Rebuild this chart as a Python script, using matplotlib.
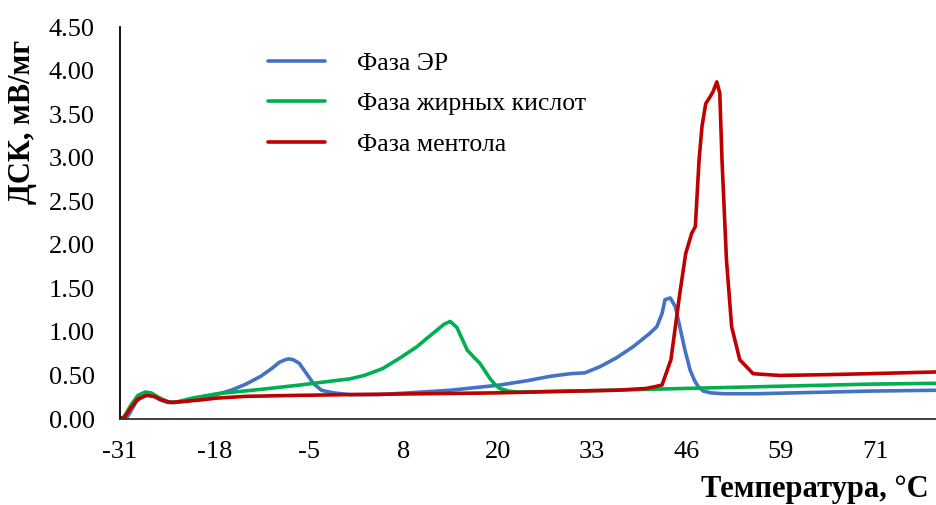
import matplotlib
matplotlib.use("Agg")
import matplotlib.pyplot as plt

# ---- data ----
tick_labels = ["-31", "-18", "-5", "8", "20", "33", "46", "59", "71"]
tick_step = 12.75

er_t = [-31.0, -30.2, -29.6, -28.8, -27.6, -26.6, -25.6, -24.6, -23.6, -22.0, -20.0, -18.0,
        -16.0, -14.0, -12.0, -10.5, -9.5, -8.7, -8.2, -7.6, -6.8, -5.8, -4.9, -3.8, -2.2, 0.0,
        4.0, 8.0, 13.6, 20.3, 24.0, 27.1, 29.8, 31.8, 33.8, 36.0, 38.3, 40.5, 41.5, 42.2,
        42.6, 43.3, 44.0, 44.6, 45.3, 46.0, 46.6, 47.1, 47.8, 48.8, 50.5, 55.0, 60.0, 65.0,
        70.0, 79.2]
er_v = [0.00, 0.00, 0.08, 0.20, 0.28, 0.27, 0.22, 0.19, 0.19, 0.21, 0.24, 0.28,
        0.33, 0.40, 0.49, 0.58, 0.65, 0.68, 0.69, 0.68, 0.64, 0.52, 0.41, 0.33, 0.30, 0.28,
        0.28, 0.30, 0.33, 0.39, 0.44, 0.49, 0.52, 0.53, 0.60, 0.70, 0.83, 0.98, 1.06, 1.21,
        1.37, 1.39, 1.29, 1.06, 0.79, 0.56, 0.44, 0.37, 0.32, 0.30, 0.29, 0.29, 0.30, 0.31,
        0.32, 0.33]

fa_t = [-31.0, -30.4, -29.6, -28.6, -27.6, -26.8, -25.6, -24.6, -23.6, -21.2, -17.9,
        -12.0, -6.7, -2.0, 0.0, 2.0, 4.5, 6.8, 9.1, 10.5, 11.8, 12.8, 13.6, 14.5, 15.9,
        16.9, 17.6, 18.3, 19.0, 19.7, 20.3, 21.5, 22.6, 30.0, 40.0, 50.0, 60.0, 70.0, 79.2]
fa_v = [0.00, 0.03, 0.15, 0.27, 0.31, 0.30, 0.24, 0.20, 0.19, 0.24, 0.29,
        0.34, 0.39, 0.44, 0.46, 0.50, 0.58, 0.70, 0.83, 0.93, 1.02, 1.09, 1.12, 1.05, 0.79,
        0.70, 0.64, 0.55, 0.46, 0.39, 0.35, 0.32, 0.31, 0.32, 0.34, 0.36, 0.38, 0.40, 0.41]

me_t = [-31.0, -30.4, -29.6, -28.6, -27.4, -26.4, -25.4, -24.2, -22.5, -20.0, -17.9,
        -14.0, -8.0, 0.0, 10.0, 20.0, 30.0, 36.0, 40.0, 41.2, 42.2, 43.4, 44.6, 45.4,
        46.2, 46.7, 47.2, 47.6, 48.1, 48.7, 49.1, 49.6, 50.0, 50.3, 50.9, 51.6, 52.7,
        54.5, 58.1, 65.0, 70.0, 79.2]
me_v = [0.00, 0.02, 0.12, 0.23, 0.27, 0.26, 0.22, 0.19, 0.20, 0.22, 0.24,
        0.26, 0.27, 0.28, 0.29, 0.30, 0.32, 0.33, 0.35, 0.37, 0.39, 0.68, 1.44, 1.90,
        2.13, 2.21, 2.97, 3.36, 3.62, 3.70, 3.76, 3.87, 3.74, 2.97, 1.83, 1.06, 0.68,
        0.52, 0.50, 0.51, 0.52, 0.54]

labels = ["Фаза ЭР", "Фаза жирных кислот", "Фаза ментола"]
colors = ["#4472C4", "#00B050", "#C00000"]

plt.rcParams['font.family'] = ['Liberation Serif', 'DejaVu Serif']

fig = plt.figure(figsize=(9.37, 5.05), dpi=100)
ax = fig.add_axes([120/937, 86/505, 816/937, 392/505])

for t, v, lab, c in [(er_t, er_v, labels[0], colors[0]),
                     (fa_t, fa_v, labels[1], colors[1]),
                     (me_t, me_v, labels[2], colors[2])]:
    ax.plot(t, v, color=c, lw=2.6, label=lab, solid_joinstyle='round', solid_capstyle='round')

ax.set_xlim(-31, 79.2)
ax.set_ylim(0, 4.5)
ax.set_xticks([-31 + tick_step * i for i in range(len(tick_labels))])
ax.set_xticklabels(tick_labels)
ax.set_yticks([0.5 * i for i in range(10)])
ax.set_yticklabels([f"{0.5*i:.2f}" for i in range(10)])
ax.tick_params(axis='both', length=0, labelsize=19)
ax.tick_params(axis='x', pad=16)
ax.tick_params(axis='y', pad=18)
for s in ['top', 'right']:
    ax.spines[s].set_visible(False)
ax.spines['left'].set_linewidth(1.3)
ax.spines['bottom'].set_linewidth(1.3)
ax.spines['bottom'].set_color('#333333')

fig.text(23/937, 1 - 122/505, "ДСК, мВ/мг", rotation=90, ha='center', va='center',
         fontsize=22, fontweight='bold')
fig.text(929/937, 1 - 489/505, "Температура, °C", ha='right', va='center',
         fontsize=22, fontweight='bold')

ax.legend(loc='upper left', bbox_to_anchor=(268/937, 1 - 52/505), bbox_transform=fig.transFigure,
          frameon=False, fontsize=18.5, handlelength=2.2, handletextpad=1.25,
          labelspacing=0.68, borderpad=0, borderaxespad=0)

fig.savefig("out.png", dpi=100)
